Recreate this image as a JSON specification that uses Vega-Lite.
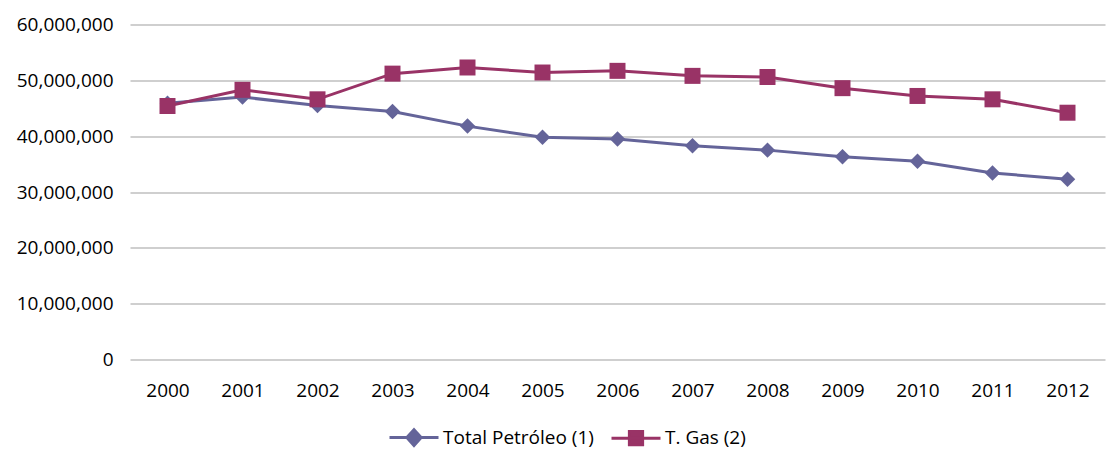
{
  "$schema": "https://vega.github.io/schema/vega-lite/v6.json",
  "autosize": {"type": "none"},
  "width": 975,
  "height": 335,
  "padding": {"left": 130, "top": 24.5, "right": 5, "bottom": 97.5},
  "background": "white",
  "config": {
    "view": {"stroke": null},
    "font": "Open Sans",
    "axis": {"labelFont": "Open Sans", "labelFontSize": 19, "labelColor": "#000000", "ticks": false, "domain": false, "title": null},
    "legend": {"labelFont": "Open Sans", "labelFontSize": 19, "labelColor": "#000000"}
  },
  "data": {
    "values": [
      {"year": "2000", "series": "Total Petróleo (1)", "value": 45900000},
      {"year": "2001", "series": "Total Petróleo (1)", "value": 47000000},
      {"year": "2002", "series": "Total Petróleo (1)", "value": 45500000},
      {"year": "2003", "series": "Total Petróleo (1)", "value": 44400000},
      {"year": "2004", "series": "Total Petróleo (1)", "value": 41800000},
      {"year": "2005", "series": "Total Petróleo (1)", "value": 39800000},
      {"year": "2006", "series": "Total Petróleo (1)", "value": 39500000},
      {"year": "2007", "series": "Total Petróleo (1)", "value": 38300000},
      {"year": "2008", "series": "Total Petróleo (1)", "value": 37500000},
      {"year": "2009", "series": "Total Petróleo (1)", "value": 36300000},
      {"year": "2010", "series": "Total Petróleo (1)", "value": 35500000},
      {"year": "2011", "series": "Total Petróleo (1)", "value": 33400000},
      {"year": "2012", "series": "Total Petróleo (1)", "value": 32300000},
      {"year": "2000", "series": "T. Gas (2)", "value": 45400000},
      {"year": "2001", "series": "T. Gas (2)", "value": 48300000},
      {"year": "2002", "series": "T. Gas (2)", "value": 46600000},
      {"year": "2003", "series": "T. Gas (2)", "value": 51200000},
      {"year": "2004", "series": "T. Gas (2)", "value": 52300000},
      {"year": "2005", "series": "T. Gas (2)", "value": 51400000},
      {"year": "2006", "series": "T. Gas (2)", "value": 51700000},
      {"year": "2007", "series": "T. Gas (2)", "value": 50800000},
      {"year": "2008", "series": "T. Gas (2)", "value": 50600000},
      {"year": "2009", "series": "T. Gas (2)", "value": 48600000},
      {"year": "2010", "series": "T. Gas (2)", "value": 47200000},
      {"year": "2011", "series": "T. Gas (2)", "value": 46600000},
      {"year": "2012", "series": "T. Gas (2)", "value": 44200000}
    ]
  },
  "encoding": {
    "x": {
      "field": "year", "type": "ordinal", "sort": null,
      "scale": {"type": "point", "padding": 0.5},
      "axis": {"labelAngle": 0, "labelPadding": 22, "grid": false}
    },
    "y": {
      "field": "value", "type": "quantitative",
      "scale": {"domain": [0, 60000000], "nice": false},
      "axis": {"values": [0, 10000000, 20000000, 30000000, 40000000, 50000000, 60000000], "format": ",d", "labelPadding": 17, "grid": true, "gridColor": "#A0A0A0", "gridWidth": 1.2}
    },
    "color": {
      "field": "series", "type": "nominal", "sort": null,
      "scale": {"domain": ["Total Petróleo (1)", "T. Gas (2)"], "range": ["#646499", "#993366"]},
      "legend": {
        "title": null,
        "orient": "none",
        "direction": "horizontal",
        "legendX": 258,
        "legendY": 387,
        "padding": 0,
        "symbolSize": 2401,
        "symbolStrokeWidth": 3,
        "labelOffset": 3,
        "columnPadding": 11,
        "encode": {
          "symbols": {
            "update": {
              "shape": {"signal": "datum.value == 'T. Gas (2)' ? 'M-1,0H1M-0.27,-0.27H0.27V0.27H-0.27Z' : 'M-1,0H1M0,-0.32L0.29,0L0,0.32L-0.29,0Z'"},
              "fill": {"signal": "datum.value == 'T. Gas (2)' ? '#993366' : '#646499'"},
              "stroke": {"signal": "datum.value == 'T. Gas (2)' ? '#993366' : '#646499'"},
              "strokeWidth": {"value": 3},
              "opacity": {"value": 1}
            }
          }
        }
      }
    }
  },
  "layer": [
    {"mark": {"type": "line", "strokeWidth": 3}},
    {
      "transform": [{"filter": "datum.series == 'Total Petróleo (1)'"}],
      "mark": {"type": "point", "filled": true, "opacity": 1, "size": 240, "shape": "diamond"}
    },
    {
      "transform": [{"filter": "datum.series == 'T. Gas (2)'"}],
      "mark": {"type": "point", "filled": true, "opacity": 1, "size": 256, "shape": "square"}
    }
  ]
}
